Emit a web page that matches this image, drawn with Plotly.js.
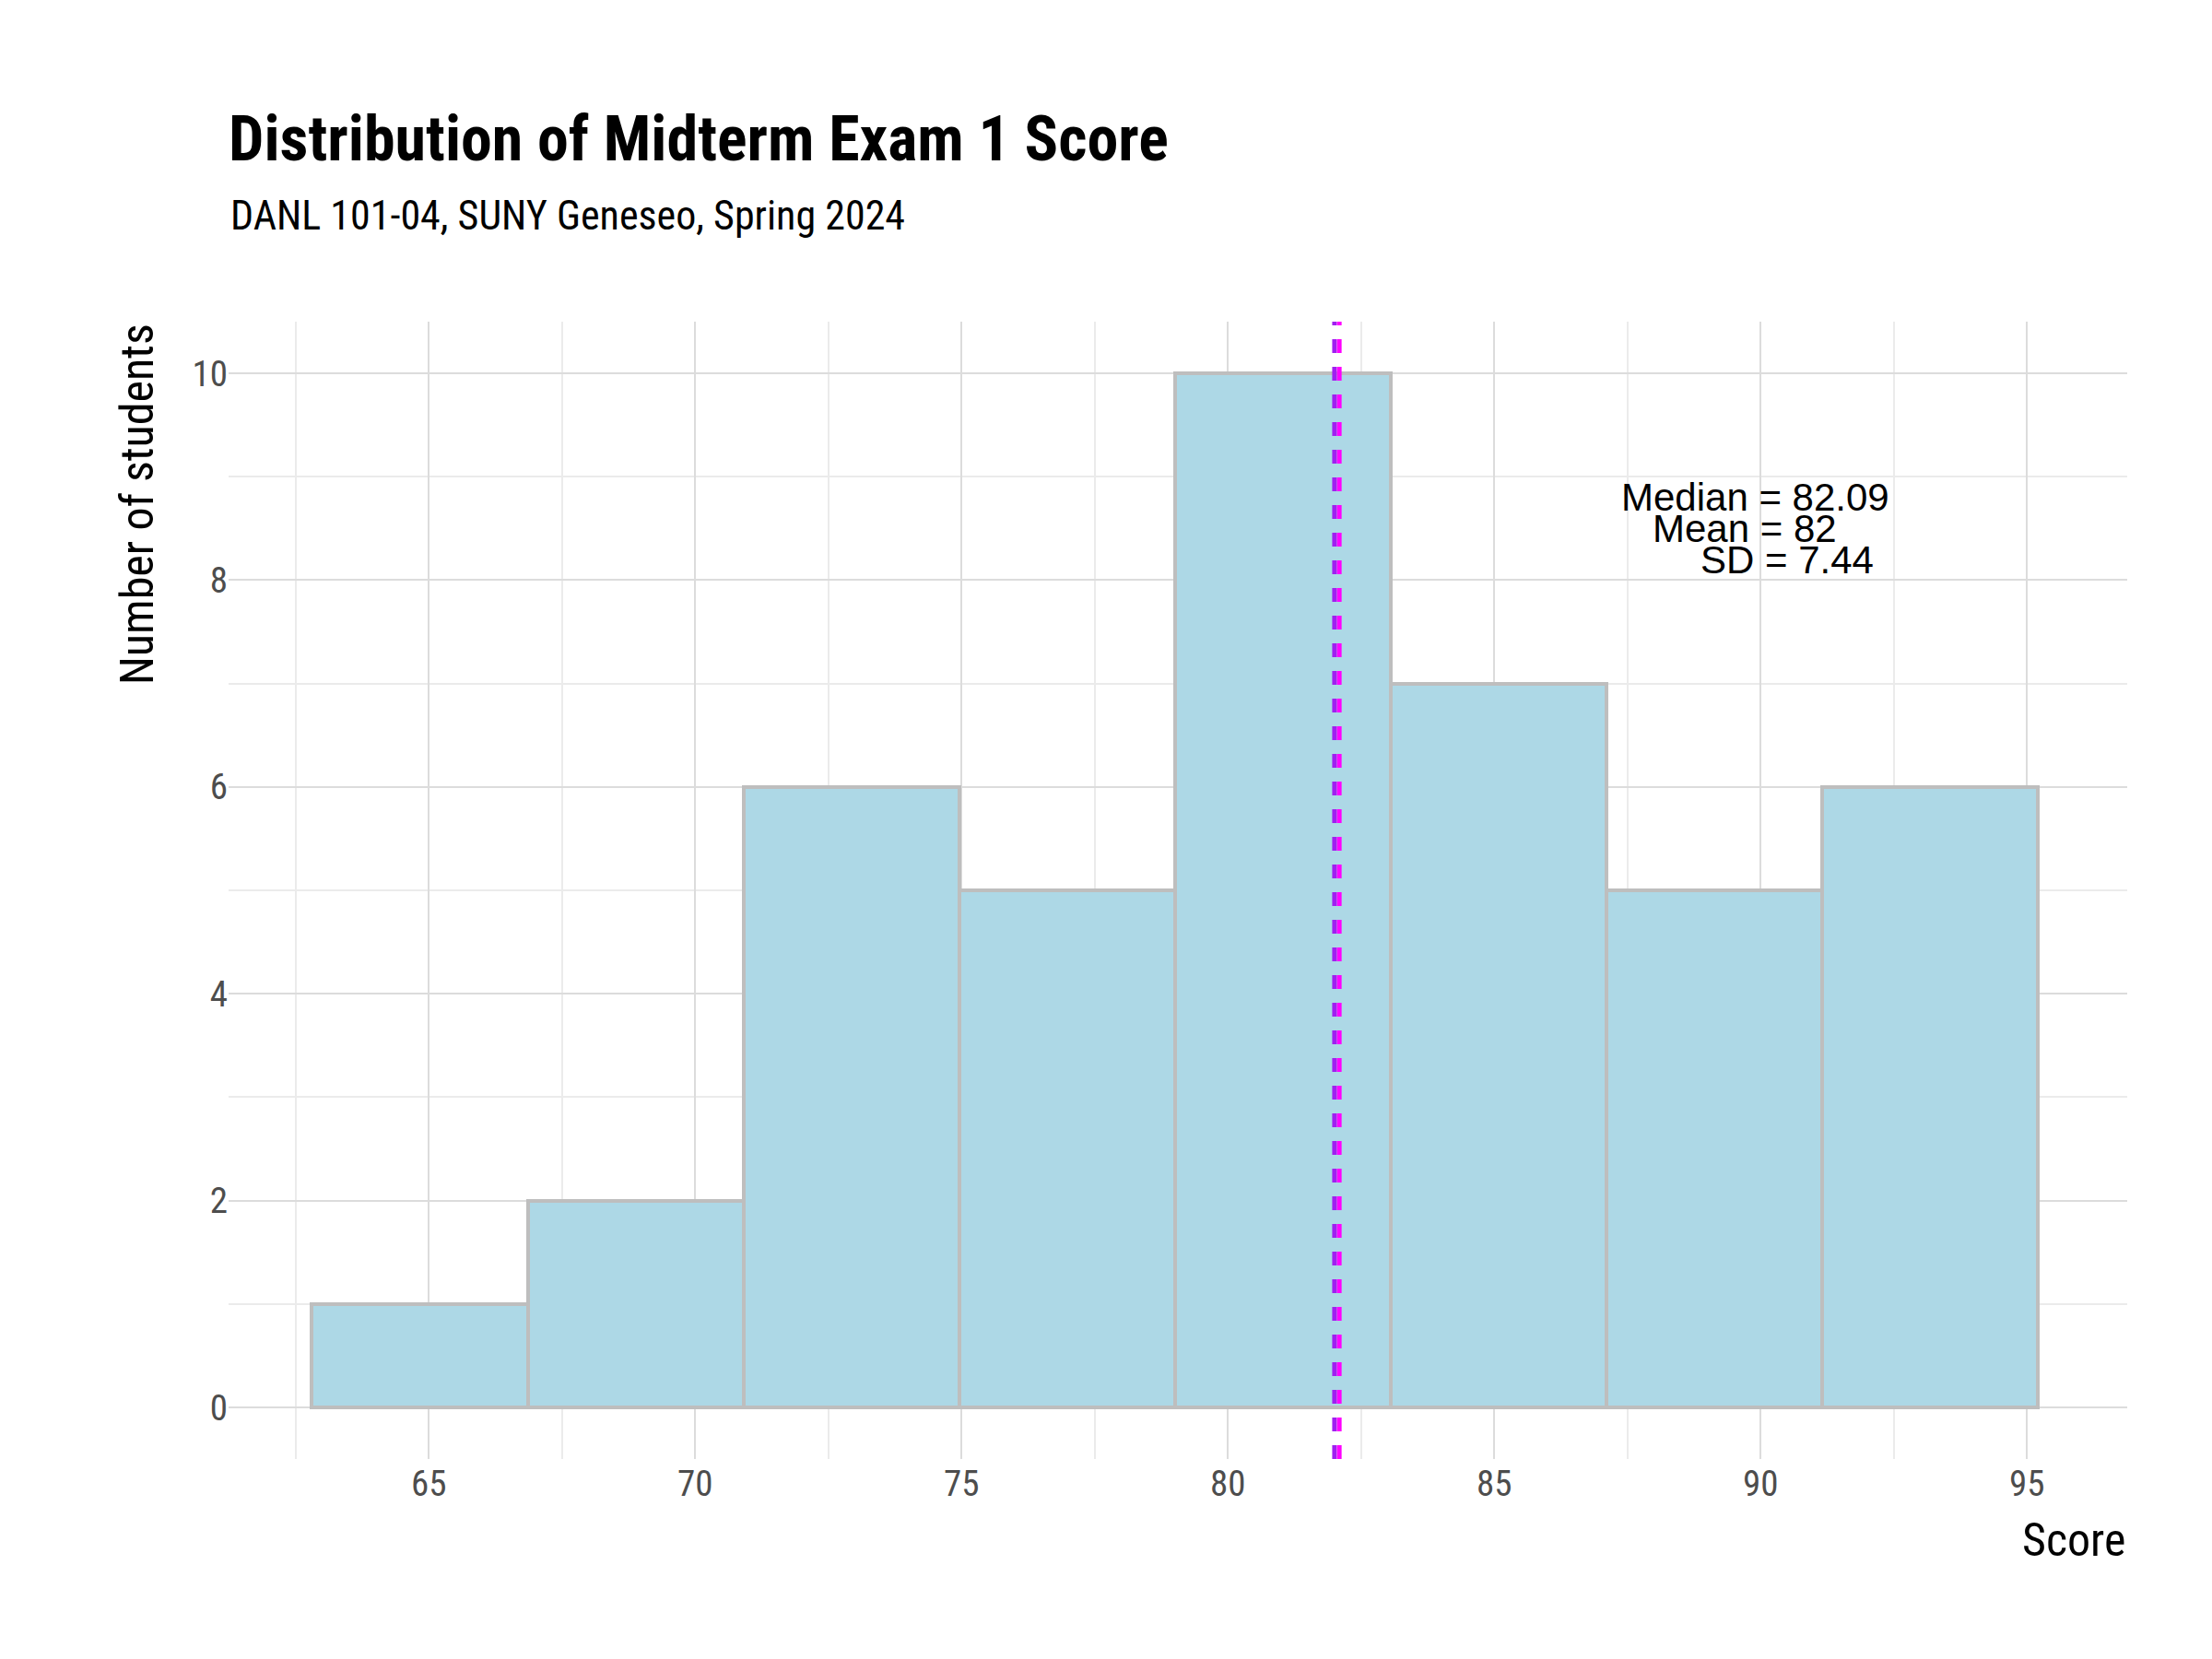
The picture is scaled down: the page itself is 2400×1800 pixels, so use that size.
<!DOCTYPE html>
<html><head><meta charset="utf-8">
<script src="https://cdn.plot.ly/plotly-3.0.1.min.js"></script>
<style>body{margin:0;background:#fff}#c{width:2400px;height:1800px}</style>
</head><body><div id="c"></div>
<script>
const binCenters = [64.83, 68.88, 72.93, 76.98, 81.03, 85.08, 89.13, 93.18];
const binWidth = 4.05;
const counts = [1, 2, 6, 5, 10, 7, 5, 6];
const meanScore = 82.0, medianScore = 82.09, sdScore = 7.44;
const xTicks = [65, 70, 75, 80, 85, 90, 95];

const FONT = '"Liberation Sans Narrow", "Roboto Condensed", Roboto, sans-serif';
const ANN_FONT = 'Liberation Sans, Arial, sans-serif';

const traces = [{
  type: 'bar', x: binCenters, y: counts, width: binWidth,
  marker: { color: '#add8e6', line: { color: '#bebebe', width: 4 } },
  hoverinfo: 'x+y',
}];

const vline = (x, color) => ({
  type: 'line', xref: 'x', yref: 'paper', x0: x, x1: x, y0: 0, y1: 1,
  line: { color, width: 5, dash: 'dash' },
});

const layout = {
  width: 2400, height: 1800,
  paper_bgcolor: '#fff', plot_bgcolor: '#fff',
  font: { family: FONT, color: '#000' },
  margin: { l: 248, r: 92, t: 349, b: 217 },
  showlegend: false,
  bargap: 0,
  title: {
    text: '<b>Distribution of Midterm Exam 1 Score</b>',
    x: 248 / 2400, xanchor: 'left', y: 0.93, yanchor: 'top',
    font: { size: 68, family: FONT },
  },
  xaxis: {
    range: [61.24, 96.88], tickvals: xTicks, showline: false, zeroline: false,
    gridcolor: '#dcdcdc', gridwidth: 2, ticks: '',
    tickfont: { size: 39, color: '#4d4d4d' },
    minor: { dtick: 2.5, showgrid: true, gridcolor: '#ebebeb', gridwidth: 1.5 },
  },
  yaxis: {
    range: [-0.5, 10.5], dtick: 2, showline: false, zeroline: false,
    gridcolor: '#dcdcdc', gridwidth: 2, ticks: '',
    tickfont: { size: 39, color: '#4d4d4d' },
    minor: { dtick: 1, showgrid: true, gridcolor: '#ebebeb', gridwidth: 1.5 },
  },
  shapes: [vline(meanScore, '#a020f0'), vline(medianScore, '#ff00ff')],
  annotations: [
    { xref: 'paper', yref: 'paper', x: 0, y: 1.093, xanchor: 'left', yanchor: 'middle',
      text: 'DANL 101-04, SUNY Geneseo, Spring 2024', showarrow: false, font: { size: 44 } },
    { xref: 'paper', yref: 'paper', x: 1, y: -0.071, xanchor: 'right', yanchor: 'middle',
      text: 'Score', showarrow: false, font: { size: 50 } },
    { xref: 'paper', yref: 'paper', x: -0.048, y: 1, xanchor: 'center', yanchor: 'top',
      textangle: -90, text: 'Number of students', showarrow: false, font: { size: 50 } },
    { x: 89.9, y: 8.8, text: 'Median = ' + medianScore, showarrow: false, font: { size: 42, family: ANN_FONT } },
    { x: 89.7, y: 8.5, text: 'Mean = ' + meanScore, showarrow: false, font: { size: 42, family: ANN_FONT } },
    { x: 90.5, y: 8.2, text: 'SD = ' + sdScore, showarrow: false, font: { size: 42, family: ANN_FONT } },
  ],
};

Plotly.newPlot('c', traces, layout, { displayModeBar: false });
</script></body></html>
